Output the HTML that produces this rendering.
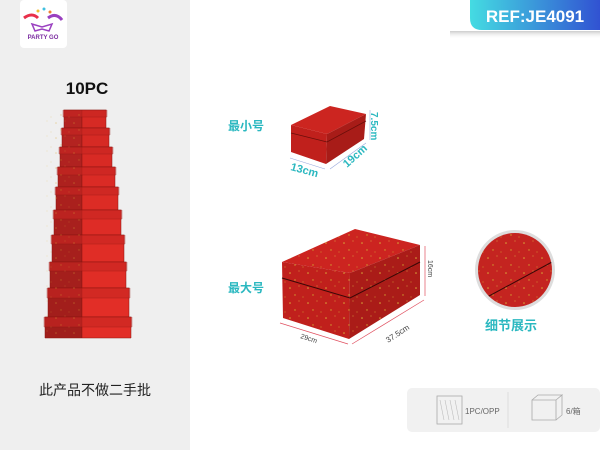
<!DOCTYPE html>
<html><head><meta charset="utf-8"><style>
html,body{margin:0;padding:0;width:600px;height:450px;overflow:hidden;background:#fff;font-family:"Liberation Sans","Noto Sans CJK SC",sans-serif}
</style></head><body>
<svg width="600" height="450" xmlns="http://www.w3.org/2000/svg" style="position:absolute;left:0;top:0">
<defs>
<linearGradient id="ref" x1="0" x2="1"><stop offset="0" stop-color="#44dce2"/><stop offset="1" stop-color="#3152d2"/></linearGradient>
<pattern id="dots" width="18" height="15" patternUnits="userSpaceOnUse">
<circle cx="2" cy="3" r="0.8" fill="#d8a838"/><circle cx="11" cy="1" r="0.5" fill="#e0b848"/><circle cx="7" cy="10" r="0.7" fill="#d0a030"/><circle cx="15" cy="12" r="0.5" fill="#d8a838"/>
</pattern>
<linearGradient id="sh" x1="0" x2="0" y1="0" y2="1"><stop offset="0" stop-color="#ccc"/><stop offset="1" stop-color="#fff" stop-opacity="0"/></linearGradient>
<clipPath id="cc"><circle cx="515" cy="270" r="37"/></clipPath>
</defs>
<rect x="0" y="0" width="190" height="450" fill="#efefef"/>
<rect x="20" y="0" width="47" height="48" rx="4" fill="#fff"/>
<path d="M24 18 q8 -6 14 0" stroke="#e8304a" stroke-width="3" fill="none"/>
<path d="M48 18 q8 -6 14 2" stroke="#9a40c0" stroke-width="3" fill="none"/>
<path d="M32 24 l10 3 l10 -3 l-3 7 l-7 -2 l-7 2z" fill="none" stroke="#9a40c0" stroke-width="1.5"/>
<circle cx="38" cy="11" r="1.5" fill="#f0c030"/><circle cx="44" cy="9" r="1.5" fill="#40c0e0"/><circle cx="50" cy="12" r="1.5" fill="#f08030"/>
<text x="43" y="39" font-size="6" font-weight="bold" fill="#7a2aa0" text-anchor="middle">PARTY GO</text>
<text x="87" y="94" font-size="17" font-weight="bold" fill="#111" text-anchor="middle">10PC</text>

<g stroke="#8a1410" stroke-width="0.5">
<!-- tier: left face, right face, lid -->
<polygon points="64,110 82,110 82,128 64,128" fill="#b32320"/><polygon points="82,110 106,110 106,128 82,128" fill="#d62a24"/><polygon points="63,110 107,110 107,117 63,117" fill="#c82622" opacity="0.6"/>
<polygon points="62,128 82,128 82,147 62,147" fill="#b32320"/><polygon points="82,128 109,128 109,147 82,147" fill="#d62a24"/><polygon points="61,128 110,128 110,135 61,135" fill="#c82622" opacity="0.6"/>
<polygon points="60,147 82,147 82,167 60,167" fill="#b02220"/><polygon points="82,147 112,147 112,167 82,167" fill="#d82a24"/><polygon points="59,147 113,147 113,154 59,154" fill="#c82622" opacity="0.6"/>
<polygon points="58,167 82,167 82,187 58,187" fill="#ad211e"/><polygon points="82,167 115,167 115,187 82,187" fill="#da2b25"/><polygon points="57,167 116,167 116,175 57,175" fill="#c82622" opacity="0.6"/>
<polygon points="56,187 82,187 82,210 56,210" fill="#aa201d"/><polygon points="82,187 118,187 118,210 82,210" fill="#dc2c25"/><polygon points="55,187 119,187 119,195 55,195" fill="#c82622" opacity="0.6"/>
<polygon points="54,210 82,210 82,235 54,235" fill="#a8201d"/><polygon points="82,210 121,210 121,235 82,235" fill="#de2c26"/><polygon points="53,210 122,210 122,219 53,219" fill="#c82622" opacity="0.6"/>
<polygon points="52,235 82,235 82,262 52,262" fill="#a61f1c"/><polygon points="82,235 124,235 124,262 82,262" fill="#e02d26"/><polygon points="51,235 125,235 125,244 51,244" fill="#c82622" opacity="0.6"/>
<polygon points="50,262 82,262 82,288 50,288" fill="#a41f1c"/><polygon points="82,262 126,262 126,288 82,288" fill="#e02d26"/><polygon points="49,262 127,262 127,271 49,271" fill="#c82622" opacity="0.6"/>
<polygon points="48,288 82,288 82,317 48,317" fill="#a21e1b"/><polygon points="82,288 129,288 129,317 82,317" fill="#e22e27"/><polygon points="47,288 130,288 130,298 47,298" fill="#c82622" opacity="0.6"/>
<polygon points="45,317 82,317 82,338 45,338" fill="#a01e1b"/><polygon points="82,317 131,317 131,338 82,338" fill="#e22e27"/><polygon points="44,317 132,317 132,327 44,327" fill="#c82622" opacity="0.6"/>
</g>
<rect x="44" y="110" width="38" height="228" fill="url(#dots)" opacity="0.4"/>
<text x="95" y="395" font-size="14" fill="#222" text-anchor="middle">此产品不做二手批</text>

<path d="M470 0 H600 V30 H482 Q470 30 470 18 Z" fill="url(#ref)"/>
<text x="535" y="22" font-size="17" font-weight="bold" fill="#fff" text-anchor="middle">REF:JE4091</text>
<rect x="450" y="31" width="150" height="8" fill="url(#sh)"/>

<text x="228" y="130" font-size="12" font-weight="bold" fill="#2bb8c0">最小号</text>
<text x="228" y="292" font-size="12" font-weight="bold" fill="#2bb8c0">最大号</text>
<text x="485" y="330" font-size="13" font-weight="bold" fill="#2bb8c0">细节展示</text>

<polygon points="291,125 330,106 366,114 327,134" fill="#cc2520"/>
<polygon points="291,125 327,134 326,164 291,152" fill="#c0201c"/>
<polygon points="327,134 366,114 364,139 326,164" fill="#a81c18"/>
<path d="M291 133 L327 142 L366 121" stroke="#6a0e0a" fill="none" stroke-width="0.8"/>
<g stroke="#9ad" stroke-width="0.6"><path d="M290 158 L325 169 M330 169 L366 143 M370 110 V140"/></g>
<text transform="translate(290,170) rotate(15)" font-size="11" font-weight="bold" fill="#2bb8c0">13cm</text>
<text transform="translate(347,168) rotate(-42)" font-size="11" font-weight="bold" fill="#2bb8c0">19cm</text>
<text transform="translate(371,112) rotate(90)" font-size="10" font-weight="bold" fill="#2bb8c0">7.5cm</text>

<polygon points="282,262 355,229 420,245 350,273" fill="#cc2420"/>
<polygon points="282,262 350,273 349,339 283,318" fill="#c0201c"/>
<polygon points="350,273 420,245 420,295 349,339" fill="#aa1c18"/>
<polygon points="282,262 355,229 420,245 420,295 349,339 283,318" fill="url(#dots)"/>
<path d="M282 278 L350 298 L420 262" stroke="#3a0806" fill="none" stroke-width="1"/>
<g stroke="#e05060" stroke-width="0.7"><path d="M280 323 L348 344 M352 344 L424 300 M425 246 V296"/></g>
<text transform="translate(300,338) rotate(18)" font-size="7" fill="#444">29cm</text>
<text transform="translate(388,343) rotate(-33)" font-size="8" fill="#444">37.5cm</text>
<text transform="translate(428,260) rotate(90)" font-size="7" fill="#444">16cm</text>

<circle cx="515" cy="270" r="40" fill="#ddd"/>
<g clip-path="url(#cc)">
<rect x="470" y="230" width="90" height="80" fill="#c42420"/>
<rect x="470" y="230" width="90" height="80" fill="url(#dots)"/>
<path d="M478 302 L552 262" stroke="#3a0806" stroke-width="1"/>
</g>

<rect x="407" y="388" width="193" height="44" rx="5" fill="#f1f1f1"/>
<line x1="508" y1="392" x2="508" y2="428" stroke="#ddd"/>
<rect x="437" y="396" width="25" height="28" fill="none" stroke="#aaa" stroke-width="0.8"/>
<path d="M440 400 l4 20 M445 400 l4 20 M450 400 l4 20 M455 400 l4 20" stroke="#bbb" stroke-width="0.6"/>
<text x="465" y="414" font-size="8" fill="#666">1PC/OPP</text>
<path d="M532 400 h24 v20 h-24z M532 400 l6 -5 h24 l-6 5 M556 400 l6 -5 v20 l-6 5" fill="none" stroke="#aaa" stroke-width="0.8"/>
<text x="566" y="414" font-size="8" fill="#666">6/箱</text>
</svg>
</body></html>
